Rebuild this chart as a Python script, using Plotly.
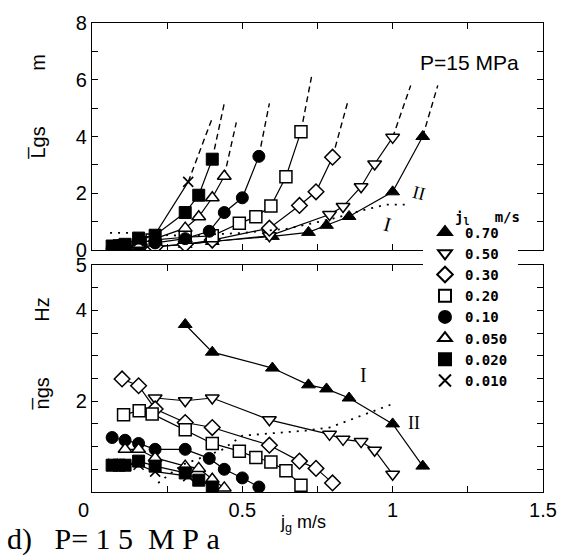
import plotly.graph_objects as go

# ---------------- data ----------------
series_names = ["0.70", "0.50", "0.30", "0.20", "0.10", "0.050", "0.020", "0.010"]
symbols = ["triangle-up", "triangle-down-open", "diamond-open", "square-open",
           "circle", "triangle-up-open", "square", "x-thin-open"]

x_070 = [0.31, 0.40, 0.60, 0.72, 0.78, 0.855, 1.0, 1.10]
L_070 = [0.2, 0.3, 0.48, 0.62, 0.87, 1.18, 2.05, 4.0]
n_070 = [3.69, 3.08, 2.73, 2.36, 2.27, 2.07, 1.5, 0.57]

x_050 = [0.21, 0.31, 0.40, 0.59, 0.79, 0.835, 0.895, 0.94, 1.0]
L_050 = [0.12, 0.2, 0.3, 0.5, 1.25, 1.53, 2.23, 3.03, 3.97]
n_050 = [2.07, 2.01, 2.07, 1.59, 1.27, 1.16, 1.11, 0.92, 0.39]

x_030 = [0.10, 0.155, 0.21, 0.31, 0.40, 0.59, 0.69, 0.745, 0.80]
L_030 = [0.05, 0.08, 0.12, 0.2, 0.35, 0.77, 1.57, 2.05, 3.27]
n_030 = [2.49, 2.34, 1.83, 1.53, 1.42, 1.03, 0.68, 0.52, 0.2]

x_020 = [0.105, 0.157, 0.20, 0.31, 0.40, 0.49, 0.545, 0.595, 0.645, 0.695]
L_020 = [0.15, 0.25, 0.35, 0.45, 0.5, 0.94, 1.17, 1.55, 2.58, 4.17]
n_020 = [1.7, 1.79, 1.72, 1.37, 1.07, 0.9, 0.76, 0.66, 0.47, 0.15]

x_010 = [0.067, 0.11, 0.155, 0.21, 0.31, 0.39, 0.44, 0.50, 0.555]
L_010 = [0.05, 0.1, 0.15, 0.25, 0.4, 0.66, 1.32, 1.84, 3.3]
n_010 = [1.2, 1.14, 1.07, 0.94, 0.94, 0.74, 0.5, 0.31, 0.11]

x_0050 = [0.11, 0.155, 0.21, 0.31, 0.355, 0.40, 0.44]
L_0050 = [0.1, 0.2, 0.4, 0.77, 1.17, 1.84, 2.6]
n_0050 = [0.94, 0.94, 0.75, 0.57, 0.52, 0.28, 0.09]

x_0020 = [0.067, 0.09, 0.11, 0.155, 0.21, 0.31, 0.355, 0.40]
L_0020 = [0.14, 0.15, 0.2, 0.42, 0.52, 1.32, 1.93, 3.2]
n_0020 = [0.59, 0.59, 0.59, 0.68, 0.57, 0.42, 0.26, 0.11]

x_0010 = [0.07, 0.155, 0.21, 0.32]
L_0010 = [0.1, 0.3, 0.55, 2.4]
n_0010 = [0.62, 0.6, 0.45, 0.35]

# dashed extrapolation end points (upper panel), same order as series
dash_end_x = [1.15, 1.06, 0.85, 0.73, 0.59, 0.48, 0.44, 0.40]
dash_end_y = [5.8, 5.8, 5.2, 6.1, 5.17, 4.5, 5.17, 4.65]

# dotted regime boundaries
bnd_L_x = [0.06, 0.12, 0.3, 0.5, 0.65, 0.8, 0.9, 0.98, 1.04]
bnd_L_y = [0.6, 0.6, 0.5, 0.6, 0.75, 1.1, 1.4, 1.6, 1.6]
bnd_n_x = [0.22, 0.3, 0.43, 0.5, 0.63, 0.71, 0.79, 0.85, 0.94, 1.0]
bnd_n_y = [0.2, 0.6, 0.92, 1.24, 1.31, 1.35, 1.42, 1.57, 1.79, 1.94]

xs = [x_070, x_050, x_030, x_020, x_010, x_0050, x_0020, x_0010]
Ls = [L_070, L_050, L_030, L_020, L_010, L_0050, L_0020, L_0010]
ns = [n_070, n_050, n_030, n_020, n_010, n_0050, n_0020, n_0010]

x_ticks = [0, 0.5, 1, 1.5]
x_ticktext = ["0\u00a0\u00a0\u00a0", "0.5", "1", "1.5"]
L_ticks = [0, 2, 4, 6, 8]
n_ticks = [2, 4, 5]

# ---------------- figure ----------------
fig = go.Figure()
BLACK = "black"


def marker_for(sym, size):
    if sym.startswith("x-thin"):
        return dict(symbol="x-thin", size=size - 2, color=BLACK,
                    line=dict(color=BLACK, width=1.6))
    if sym.endswith("-open"):
        return dict(symbol=sym.replace("-open", ""), size=size, color="white",
                    line=dict(color=BLACK, width=1.5))
    return dict(symbol=sym, size=size, color=BLACK, line=dict(color=BLACK, width=1))


for i in range(len(series_names)):
    mk = marker_for(symbols[i], 12)
    fig.add_trace(go.Scatter(x=[xs[i][-1], dash_end_x[i]], y=[Ls[i][-1], dash_end_y[i]],
                             mode="lines", line=dict(color=BLACK, width=1.4, dash="6px,4px"),
                             xaxis="x2", yaxis="y", showlegend=False, hoverinfo="skip"))
    fig.add_trace(go.Scatter(x=xs[i], y=Ls[i], mode="lines+markers",
                             line=dict(color=BLACK, width=1.2), marker=mk,
                             xaxis="x2", yaxis="y", showlegend=False))
    fig.add_trace(go.Scatter(x=xs[i], y=ns[i], mode="lines+markers",
                             line=dict(color=BLACK, width=1.2), marker=mk,
                             xaxis="x", yaxis="y2", showlegend=False))

fig.add_trace(go.Scatter(x=bnd_L_x, y=bnd_L_y, mode="lines",
                         line=dict(color=BLACK, width=1.8, dash="2px,6px"),
                         xaxis="x2", yaxis="y", showlegend=False))
fig.add_trace(go.Scatter(x=bnd_n_x, y=bnd_n_y, mode="lines",
                         line=dict(color=BLACK, width=1.8, dash="2px,6px"),
                         xaxis="x", yaxis="y2", showlegend=False))

for i in range(len(series_names)):
    fig.add_trace(go.Scatter(x=[None], y=[None], mode="markers",
                             marker=marker_for(symbols[i], 13),
                             name=series_names[i], xaxis="x", yaxis="y2", showlegend=True))

TICKF = dict(family="Liberation Sans, Arial, sans-serif", size=20, color=BLACK)
ax_common = dict(showline=True, linecolor=BLACK, linewidth=1.3, mirror="ticks",
                 ticks="inside", ticklen=6, tickcolor=BLACK, tickwidth=1.2,
                 showgrid=False, zeroline=False, tickfont=TICKF)


def minor(d):
    return dict(dtick=d, tick0=0, ticks="inside", ticklen=6, tickcolor=BLACK, showgrid=False)


L_, R_, T_, B_ = 92, 27, 17, 64
W_, H_ = 570 - L_ - R_, 556 - T_ - B_


def px2x(p):
    return (p - L_) / W_


def py2y(p):
    return (556 - B_ - p) / H_


fig.update_layout(
    width=570, height=556,
    margin=dict(l=L_, r=R_, t=T_, b=B_),
    paper_bgcolor="white", plot_bgcolor="white",
    xaxis=dict(range=[0, 1.5], anchor="y2", tickmode="array", tickvals=x_ticks,
               ticktext=x_ticktext, minor=minor(0.25), **ax_common),
    xaxis2=dict(range=[0, 1.5], anchor="y", matches="x", showticklabels=False,
                tickmode="array", tickvals=x_ticks, minor=minor(0.25), **ax_common),
    yaxis=dict(range=[0, 8], domain=[0.516, 1.0], anchor="x2", tickmode="array",
               tickvals=L_ticks, minor=minor(1), **ax_common),
    yaxis2=dict(range=[0, 5], domain=[0, 0.484], anchor="x", tickmode="array",
                tickvals=n_ticks, minor=minor(0.5), **ax_common),
    showlegend=True,
    legend=dict(x=px2x(425), y=py2y(213), xanchor="left", yanchor="top",
                bgcolor="rgba(0,0,0,0)", borderwidth=0,
                font=dict(family="DejaVu Sans Mono, monospace", size=14, color=BLACK,
                          weight="bold"),
                itemsizing="constant", tracegroupgap=0),
    shapes=[dict(type="rect", xref="paper", yref="paper", layer="above",
                 x0=px2x(423), x1=px2x(518), y0=py2y(386), y1=py2y(204),
                 fillcolor="white", line=dict(width=0))],
)

# annotations given in pixel positions (converted to paper coordinates below)
ann = [
    dict(text="P=15 MPa", px=469, py=57, size=21, family="Liberation Sans, Arial"),
    dict(text="L\u0305gs          m", px=38, py=102, size=20, family="Liberation Sans, Arial", angle=-90),
    dict(text="n\u0305gs          Hz", px=42, py=352, size=20, family="Liberation Sans, Arial", angle=-90),
    dict(text="j<sub>g</sub> m/s", px=303, py=524, size=18, family="Liberation Sans, Arial"),
    dict(text="d)\u00a0\u00a0\u00a0P=\u00a01\u00a05\u00a0\u00a0M\u00a0P\u00a0a", px=5, py=540, size=30,
         family="Liberation Serif, serif", xanchor="left"),
    dict(text="I", px=387, py=221, size=20, family="Liberation Serif, serif", angle=15),
    dict(text="II", px=419, py=189, size=18, family="Liberation Serif, serif", angle=15),
    dict(text="I", px=363, py=374, size=20, family="Liberation Serif, serif"),
    dict(text="II", px=414, py=422, size=18, family="Liberation Serif, serif"),
    dict(text="j<sub>l</sub>   m/s", px=487, py=214, size=14,
         family="DejaVu Sans Mono, monospace", bold=True),
]
annotations = []
for a in ann:
    f = dict(family=a["family"], size=a["size"], color=BLACK)
    if a.get("bold"):
        f["weight"] = "bold"
    annotations.append(dict(
        text=a["text"], xref="paper", yref="paper",
        x=px2x(a["px"]), y=py2y(a["py"]),
        xanchor=a.get("xanchor", "center"), yanchor="middle",
        textangle=a.get("angle", 0), showarrow=False, font=f))
fig.update_layout(annotations=annotations)

fig.write_html("out.html")
